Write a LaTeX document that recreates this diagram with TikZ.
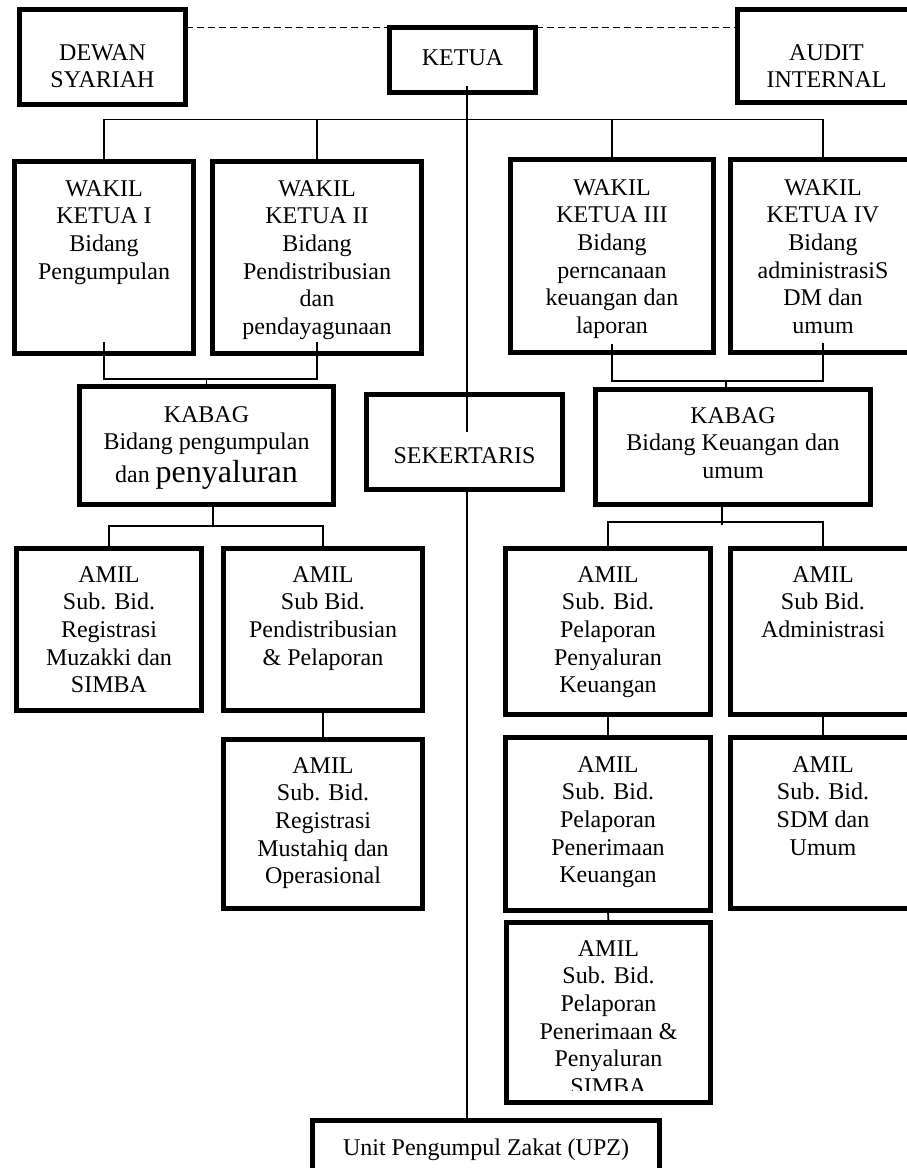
\documentclass[tikz,border=0pt]{standalone}
\usepackage{fontspec}
\setmainfont{Liberation Serif}
\tikzset{
  bx/.style={draw=black, line width=4.8pt, inner sep=0pt, outer sep=0pt, rectangle},
  txt/.style={anchor=north, inner sep=0pt, outer sep=0pt, align=center, font=\fontsize{24}{27.7}\selectfont},
  conn/.style={draw=black, line width=1.8pt},
  dashln/.style={draw=black, line width=1.8pt, dash pattern=on 7pt off 4pt}
}
\newcommand\orgbox[7]{%
  \node[bx, minimum width={#4-#2-4.8}, minimum height={#5-#3-4.8}] (#1) at ({(#2+#4)/2},{(#3+#5)/2}) {};
  \node[txt] (#1t) at ({(#2+#4)/2},{#6-19.39}) {\strut #7};
}
\begin{document}
\begin{tikzpicture}[x=1pt,y=-1pt]
\useasboundingbox (0,0) rectangle (907,1168);
\clip (0,0) rectangle (907,1168);
\fill[white] (0,0) rectangle (907,1168);

\orgbox{dewan}{17}{7}{188}{107}{60}{DEWAN\\SYARIAH}
\orgbox{ketua}{387}{25}{538}{95}{65}{KETUA}
\orgbox{audit}{735}{7}{918}{105}{60}{AUDIT\\INTERNAL}

\orgbox{w1}{12}{159}{196}{356}{196}{WAKIL\\KETUA I\\Bidang\\Pengumpulan}
\orgbox{w2}{210}{159}{424}{356}{196}{WAKIL\\KETUA II\\Bidang\\Pendistribusian\\dan\\pendayagunaan}
\orgbox{w3}{508}{157}{716}{355}{195}{WAKIL\\KETUA III\\Bidang\\perncanaan\\keuangan dan\\laporan}
\orgbox{w4}{728}{157}{918}{355}{195}{WAKIL\\KETUA IV\\Bidang\\administrasiS\\DM dan\\umum}

\orgbox{kb1}{77}{384}{336}{507}{422}{KABAG\\Bidang pengumpulan\\[5pt]dan {\fontsize{32}{36}\selectfont penyaluran}}
\orgbox{sek}{364}{392}{565}{492}{463}{SEKERTARIS}
\orgbox{kb2}{593}{387}{873}{507}{423}{KABAG\\Bidang Keuangan dan\\umum}

\orgbox{a1}{14}{546}{204}{713}{582}{AMIL\\Sub. Bid.\\Registrasi\\Muzakki dan\\SIMBA}
\orgbox{a2}{221}{546}{425}{713}{582}{AMIL\\Sub Bid.\\Pendistribusian\\\& Pelaporan}
\orgbox{a3}{221}{737}{425}{911}{773}{AMIL\\Sub. Bid.\\Registrasi\\Mustahiq dan\\Operasional}

\orgbox{b1}{503}{546}{713}{717}{582}{AMIL\\Sub. Bid.\\Pelaporan\\Penyaluran\\Keuangan}
\orgbox{b2}{728}{546}{918}{717}{582}{AMIL\\Sub Bid.\\Administrasi}
\orgbox{b3}{503}{735}{713}{913}{772}{AMIL\\Sub. Bid.\\Pelaporan\\Penerimaan\\Keuangan}
\orgbox{b4}{728}{735}{918}{911}{772}{AMIL\\Sub. Bid.\\SDM dan\\Umum}

\node[bx, minimum width={713-504-4.8}, minimum height={1105-920-4.8}] (b5) at ({(504+713)/2},{(920+1105)/2}) {};
\begin{scope}
\clip (504,920) rectangle (713,1090);
\node[txt] (b5t) at ({(504+713)/2},{956-19.39}) {\strut AMIL\\Sub. Bid.\\Pelaporan\\Penerimaan \&\\Penyaluran\\SIMBA};
\end{scope}

\orgbox{upz}{310}{1118}{662}{1190}{1155}{Unit Pengumpul Zakat (UPZ)}

% dashed links
\draw[dashln] (dewan.east |- ketua.north west) -- (ketua.north west);
\draw[dashln] (ketua.north east) -- (audit.west |- ketua.north east);

% spine
\draw[conn] ([xshift=4.5pt,yshift=6.6pt]ketua.south) -- ([xshift=2.5pt,yshift=-37.6pt]sek.north);
\draw[conn] ([xshift=2.5pt]sek.south) -- ([xshift=-19pt]upz.north);

% bus to wakil
\coordinate (bus1) at (0,119.5);
\draw[conn] (w1.north) -- (w1.north |- bus1) -- (w4.north |- bus1) -- (w4.north);
\draw[conn] (w2.north) -- (w2.north |- bus1);
\draw[conn] (w3.north) -- (w3.north |- bus1);

% wakil to kabag
\draw[conn] ([yshift=12pt]w1.south) |- ([yshift=7.4pt]kb1.north) -| ([yshift=12pt]w2.south);
\draw[conn] ([yshift=7.4pt]kb1.north) -- (kb1.north);
\draw[conn] ([yshift=8.5pt]w3.south) |- ([xshift=-7pt,yshift=8.4pt]kb2.north) -| ([yshift=9.5pt]w4.south);
\draw[conn] ([xshift=-7pt,yshift=8.4pt]kb2.north) -- ([xshift=-7pt]kb2.north);

% kabag to amil
\draw[conn] ([xshift=6.5pt]kb1.south) -- ([xshift=6.5pt,yshift=-21.4pt]kb1.south);
\draw[conn] (a1.north) |- ([xshift=6.5pt,yshift=-21.4pt]kb1.south) -| (a2.north);
\draw[conn] (a2.south) -- (a3.north);

\draw[conn] ([xshift=-11pt,yshift=2.6pt]kb2.south) -- ([xshift=-11pt,yshift=-20.4pt]kb2.south);
\draw[conn] (b1.north) |- ([xshift=-11pt,yshift=-17.4pt]kb2.south) -| (b2.north);
\draw[conn] (b1.south) -- (b3.north);
\draw[conn] (b2.south) -- (b4.north);
\draw[conn] (b3.south) -- (b5.north);
\end{tikzpicture}
\end{document}
